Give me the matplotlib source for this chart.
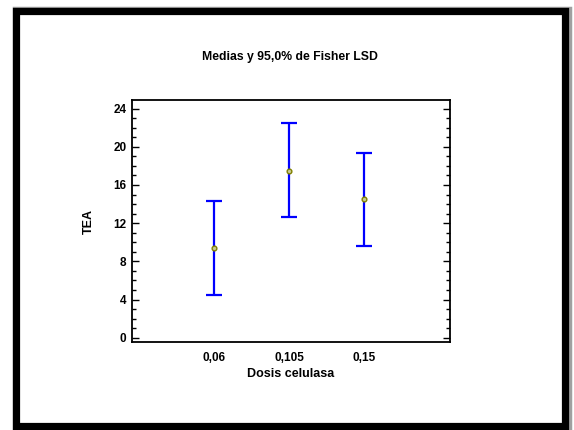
import matplotlib
matplotlib.use("Agg")
import matplotlib.pyplot as plt
from matplotlib.patches import Rectangle
from matplotlib.ticker import MultipleLocator
from matplotlib import font_manager

# Data: group means and 95% Fisher LSD interval bounds
doses = ["0,06", "0,105", "0,15"]
means = [9.4, 17.5, 14.5]
lower = [4.5, 12.6, 9.6]
upper = [14.35, 22.45, 19.4]

title = "Medias y 95,0% de Fisher LSD"
xlabel = "Dosis celulasa"
ylabel = "TEA"

available = {f.name for f in font_manager.fontManager.ttflist}
family = "Liberation Sans Narrow" if "Liberation Sans Narrow" in available else "Liberation Sans"
plt.rcParams["font.family"] = [family, "DejaVu Sans"]
plt.rcParams["font.weight"] = "bold"

W, H = 574, 430
fig = plt.figure(figsize=(W / 100, H / 100), dpi=100)
fig.patch.set_facecolor("white")

# outer frame with soft shadow
fig.add_artist(Rectangle((13.5 / W, 1 - 430.5 / H), 556 / W, 422 / H,
                         transform=fig.transFigure, fill=False,
                         edgecolor="#a0a0a0", linewidth=2.5))
fig.add_artist(Rectangle((15.5 / W, 1 - 425.5 / H), 549 / W, 415 / H,
                         transform=fig.transFigure, fill=False,
                         edgecolor="black", linewidth=5.2))

left, right, top, bottom = 132, 450, 100, 342
ax = fig.add_axes([left / W, 1 - bottom / H, (right - left) / W, (bottom - top) / H])

xpos = list(range(len(doses)))
yerr = [[m - lo for m, lo in zip(means, lower)],
        [hi - m for m, hi in zip(means, upper)]]
ax.errorbar(xpos, means, yerr=yerr, fmt="none", ecolor="#0000ff",
            elinewidth=1.6, capsize=5.5, capthick=1.6, zorder=2)
ax.plot(xpos, means, "o", ms=3.4, mfc="#c8c890", mec="#808000",
        mew=1.0, zorder=3)

ax.set_xlim(-1.1, 3.15)
ax.set_ylim(-0.45, 24.9)
ax.set_xticks(xpos)
ax.set_xticklabels(doses, fontsize=8.5, fontweight="bold")
ax.tick_params(axis="x", length=0, pad=7)
ax.yaxis.set_major_locator(MultipleLocator(4))
ax.yaxis.set_minor_locator(MultipleLocator(1))
ax.tick_params(axis="y", which="major", direction="in", length=5,
               width=1.0, left=True, right=True, labelsize=8.5, pad=4)
ax.tick_params(axis="y", which="minor", direction="in", length=3,
               width=1.0, left=True, right=True)
for lab in ax.get_yticklabels():
    lab.set_fontweight("bold")
for sp in ax.spines.values():
    sp.set_linewidth(1.3)

ax.set_xlabel(xlabel, fontsize=9, fontweight="bold", labelpad=3)
ax.set_ylabel(ylabel, fontsize=9, fontweight="bold", labelpad=13)
fig.text(290 / W, 1 - 57 / H, title, ha="center", va="center",
         fontsize=8.8, fontweight="bold")

fig.savefig("out.png", dpi=100, facecolor="white")
